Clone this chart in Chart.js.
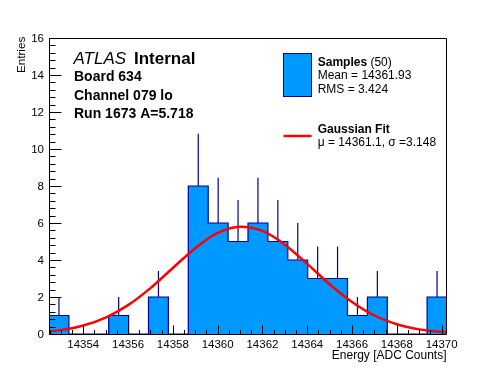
<!DOCTYPE html>
<html>
<head>
<meta charset="utf-8">
<script src="https://cdn.jsdelivr.net/npm/chart.js@4/dist/chart.umd.min.js"></script>
<style>
  html, body { margin: 0; padding: 0; background: #fff; }
  canvas { display: block; }
</style>
</head>
<body>
<canvas id="energyChart" width="496" height="372"></canvas>
<script>
// histogram range and bin contents (20 bins)
const binLow = 14352.47;
const binHigh = 14370.24;
const counts = [1, 0, 0, 1, 0, 2, 0, 8, 6, 5, 6, 5, 4, 3, 3, 1, 2, 0, 0, 2];
const errUp = [1, 0, 0, 1, 0, 1.41, 0, 2.83, 2.45, 2.24, 2.45, 2.24, 2, 1.73, 1.73, 1, 1.41, 0, 0, 1.41];

// gaussian fit curve
const gaussX = [14352.47, 14353, 14354, 14355, 14356, 14357, 14358, 14359, 14360, 14361,
                14362, 14363, 14364, 14365, 14366, 14367, 14368, 14369, 14370, 14370.24];
const gaussY = [0.14, 0.21, 0.46, 0.89, 1.56, 2.48, 3.57, 4.64, 5.46, 5.80,
                5.57, 4.83, 3.79, 2.69, 1.73, 1.00, 0.53, 0.25, 0.11, 0.09];

// axis tick labels
const xTicks = [14354, 14356, 14358, 14360, 14362, 14364, 14366, 14368, 14370];
const yTicks = [0, 2, 4, 6, 8, 10, 12, 14, 16];

const FONT = '"Liberation Sans", Arial, Helvetica, sans-serif';
const FILL = '#0099ff';
const LINE = '#000099';

const binW = (binHigh - binLow) / counts.length;

// stepped contour: one point per left edge, plus the last right edge
const histPoints = counts.map((c, i) => ({ x: binLow + i * binW, y: c }));
histPoints.push({ x: binHigh, y: counts[counts.length - 1] });

// error bars only show above the bar
const errPoints = [];
counts.forEach((c, i) => {
    if (c <= 0) return;
    const xc = binLow + (i + 0.5) * binW;
    errPoints.push({ x: xc, y: c }, { x: xc, y: c + errUp[i] }, { x: xc, y: null });
});

const gaussPoints = gaussX.map((x, i) => ({ x: x, y: gaussY[i] }));

const rootFrame = {
    id: 'rootFrame',
    beforeDraw(chart) {
        const ctx = chart.ctx;
        ctx.save();
        ctx.fillStyle = '#fff';
        ctx.fillRect(0, 0, chart.width, chart.height);
        ctx.restore();
    },
    afterDatasetsDraw(chart) {
        const ctx = chart.ctx;
        const xs = chart.scales.x;
        const ys = chart.scales.y;
        const L = 49.5, R = 446.5, T = 38.5, B = 334.5;

        ctx.save();
        ctx.strokeStyle = '#000';
        ctx.lineWidth = 1;
        ctx.beginPath();
        ctx.moveTo(L, T); ctx.lineTo(R, T); ctx.lineTo(R, B); ctx.lineTo(L, B); ctx.closePath();

        // x ticks (minor every 0.5, major at labels)
        for (let v = Math.ceil(binLow * 2) / 2; v <= binHigh; v += 0.5) {
            const px = Math.round(xs.getPixelForValue(v)) + 0.5;
            const len = xTicks.includes(v) ? 9 : 4.5;
            ctx.moveTo(px, B); ctx.lineTo(px, B - len);
        }
        // y ticks (minor every 0.4)
        for (let k = 0; k <= 40; k++) {
            const v = k * 0.4;
            const py = Math.round(ys.getPixelForValue(v)) + 0.5;
            const len = k % 5 === 0 ? 12 : 6;
            ctx.moveTo(L, py); ctx.lineTo(L + len, py);
        }
        ctx.stroke();

        // tick labels
        ctx.fillStyle = '#000';
        ctx.font = '11.5px ' + FONT;
        ctx.textAlign = 'center';
        ctx.textBaseline = 'alphabetic';
        xTicks.forEach(v => ctx.fillText(String(v), xs.getPixelForValue(v), 347.5));
        ctx.textAlign = 'right';
        yTicks.forEach(v => ctx.fillText(String(v), 44, ys.getPixelForValue(v) + 4.3));

        // axis titles
        ctx.font = '12px ' + FONT;
        ctx.fillText('Energy [ADC Counts]', 446.5, 358.5);
        ctx.save();
        ctx.translate(24.5, 36.7);
        ctx.rotate(-Math.PI / 2);
        ctx.font = '11.7px ' + FONT;
        ctx.textAlign = 'right';
        ctx.fillText('Entries', 0, 0);
        ctx.restore();

        // ATLAS label block
        ctx.textAlign = 'left';
        ctx.font = 'italic 17px ' + FONT;
        ctx.fillText('ATLAS', 73.5, 64);
        ctx.font = 'bold 17px ' + FONT;
        ctx.fillText('Internal', 134, 64);
        ctx.font = 'bold 14px ' + FONT;
        ctx.fillText('Board 634', 74, 81);
        ctx.fillText('Channel 079 lo', 74, 99.7);
        ctx.fillText('Run 1673 A=5.718', 74, 118.3);

        // legend
        ctx.fillStyle = FILL;
        ctx.fillRect(283.5, 53.5, 28, 43);
        ctx.strokeStyle = LINE;
        ctx.strokeRect(283.5, 53.5, 28, 43);
        ctx.strokeStyle = '#ff0000';
        ctx.lineWidth = 2.5;
        ctx.beginPath();
        ctx.moveTo(283.5, 136); ctx.lineTo(311.5, 136);
        ctx.stroke();

        ctx.fillStyle = '#000';
        ctx.font = 'bold 12px ' + FONT;
        ctx.fillText('Samples', 317.7, 65.7);
        const sw = ctx.measureText('Samples ').width;
        ctx.font = '12px ' + FONT;
        ctx.fillText('(50)', 317.7 + sw, 65.7);
        ctx.fillText('Mean = 14361.93', 317.7, 79.3);
        ctx.fillText('RMS = 3.424', 317.7, 93.3);
        ctx.font = 'bold 12px ' + FONT;
        ctx.fillText('Gaussian Fit', 317.7, 132.7);
        ctx.font = '12px ' + FONT;
        ctx.fillText('\u03bc = 14361.1, \u03c3 =3.148', 317.7, 145.5);
        ctx.restore();
    }
};

new Chart(document.getElementById('energyChart'), {
    type: 'line',
    data: {
        datasets: [
            {
                label: 'Gaussian Fit',
                data: gaussPoints,
                borderColor: '#ff0000',
                borderWidth: 2.5,
                pointRadius: 0,
                fill: false,
                cubicInterpolationMode: 'monotone',
                order: 0
            },
            {
                label: 'errors',
                data: errPoints,
                borderColor: LINE,
                borderWidth: 1.2,
                pointRadius: 0,
                fill: false,
                spanGaps: false,
                order: 1
            },
            {
                label: 'Samples',
                data: histPoints,
                borderColor: LINE,
                borderWidth: 1.2,
                backgroundColor: FILL,
                pointRadius: 0,
                stepped: true,
                fill: 'origin',
                order: 2
            }
        ]
    },
    options: {
        responsive: false,
        animation: false,
        devicePixelRatio: 1,
        layout: { padding: { left: 49, right: 49, top: 38, bottom: 38 } },
        plugins: {
            legend: { display: false },
            tooltip: { enabled: false }
        },
        scales: {
            x: { type: 'linear', min: binLow, max: binHigh, display: false },
            y: { type: 'linear', min: 0, max: 16, display: false }
        }
    },
    plugins: [rootFrame]
});
</script>
</body>
</html>
